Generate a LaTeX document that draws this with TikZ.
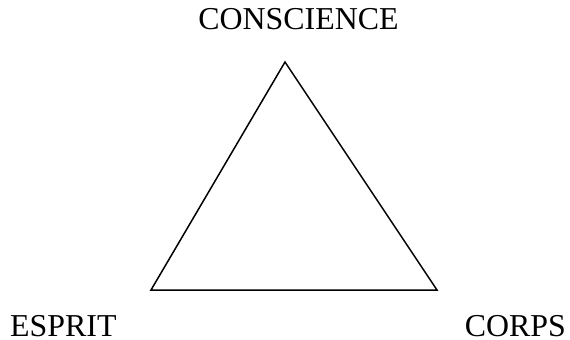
\documentclass[tikz,border=0pt]{standalone}
\usepackage{fontspec}
\setmainfont{Liberation Serif}
\usepackage{tikz}
\usetikzlibrary{positioning}

\begin{document}
\begin{tikzpicture}[x=1bp,y=-1bp,font=\fontsize{32}{38}\selectfont,
  lbl/.style={inner sep=0pt,text depth=0pt}]
  \useasboundingbox (0,0) rectangle (570,339);
  % the three corners
  \coordinate (top) at (285,62);
  \coordinate (left) at (151,290);
  \coordinate (right) at (437,290);
  \draw[line width=1.5bp] (top) -- (left) -- (right) -- cycle;
  % labels
  \node[lbl,anchor=base] (consc) at (298.5,29) {CONSCIENCE};
  \node[lbl,anchor=base west] (esprit) at (10,336.5) {ESPRIT};
  \node[lbl,anchor=base east] (corps) at (566,336.5) {CORPS};
\end{tikzpicture}
\end{document}
